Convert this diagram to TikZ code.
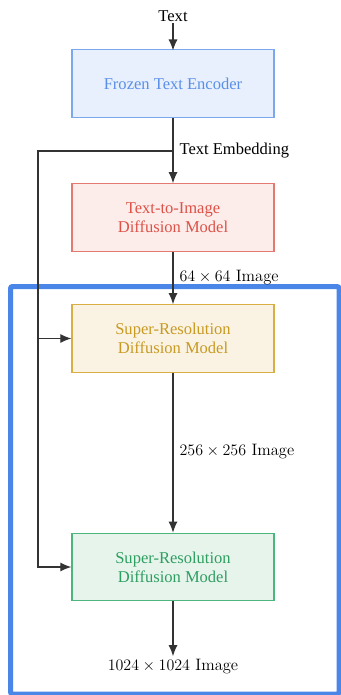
\documentclass[tikz,border=0pt]{standalone}
\usepackage{fontspec}
\newfontfamily\serifface{Liberation Serif}
\usetikzlibrary{arrows.meta}

\definecolor{encfill}{HTML}{E8F0FD}
\definecolor{encline}{HTML}{7BA7EE}
\definecolor{enctext}{HTML}{5A8FE8}
\definecolor{tifill}{HTML}{FCECEA}
\definecolor{tiline}{HTML}{E27A72}
\definecolor{titext}{HTML}{DD5248}
\definecolor{srafill}{HTML}{FAF3E3}
\definecolor{sraline}{HTML}{D8AE45}
\definecolor{sratext}{HTML}{C89A22}
\definecolor{srbfill}{HTML}{E7F4EC}
\definecolor{srbline}{HTML}{4DB57E}
\definecolor{srbtext}{HTML}{2E9E60}
\definecolor{framecol}{HTML}{4A86E8}
\definecolor{wire}{HTML}{333333}

\tikzset{
  model/.style={draw, line width=0.9pt, minimum width=151.5pt, minimum height=50.5pt,
    align=center, font=\serifface\fontsize{12.4}{14.3}\selectfont},
  wirestyle/.style={draw=wire, line width=0.95pt},
  arr/.style={wirestyle, -{Latex[length=8.3pt,width=6.8pt]}},
  serlabel/.style={font=\serifface\fontsize{12.4}{14.3}\selectfont, inner sep=1pt},
  mathlabel/.style={font=\fontsize{12.4}{14.3}\selectfont, inner sep=1pt}
}

\begin{document}
\begin{tikzpicture}[x=0.75pt,y=-0.75pt]
  \useasboundingbox (0,0) rectangle (341,695);

  % pipeline stages
  \node[serlabel] (txt) at (173,16) {Text};
  \node[model, fill=encfill, draw=encline, text=enctext] (enc) at (173,83.5) {Frozen Text Encoder};
  \node[model, fill=tifill, draw=tiline, text=titext] (t2i) at (173,217.5) {Text-to-Image\\Diffusion Model};
  \node[model, fill=srafill, draw=sraline, text=sratext] (sra) at (173,338.5) {Super-Resolution\\Diffusion Model};
  \node[model, fill=srbfill, draw=srbline, text=srbtext] (srb) at (173,567) {Super-Resolution\\Diffusion Model};
  \node[mathlabel] (out) at (173,666.5) {$1024\times1024$ Image};

  % cascade frame around the super-resolution stages
  \draw[framecol, line width=3.75pt, rounded corners=1.5pt] (10.5,286.5) rectangle (339,694);

  % main flow
  \draw[arr] (txt.south) -- ([yshift=-1pt]enc.north);
  \draw[arr] (enc) -- (t2i);
  \draw[arr] (t2i) -- (sra);
  \draw[arr] (sra) -- (srb);
  \draw[arr] (srb) -- ([yshift=1pt]out.north);

  % text embedding side branch
  \coordinate (split) at (173,151);
  \coordinate (corner) at (38,151);
  \coordinate (tap) at (corner |- sra.west);
  \draw[wirestyle] (split) -- (corner) -- (tap);
  \draw[arr] (tap) |- (srb.west);
  \draw[arr] (tap) -- (sra.west);

  % edge labels
  \node[serlabel, anchor=west] (emb) at (178,151) {Text Embedding};
  \node[mathlabel, anchor=west] (lab64) at (178,278) {$64\times64$ Image};
  \node[mathlabel, anchor=west] (lab256) at (178,452) {$256\times256$ Image};
\end{tikzpicture}
\end{document}
